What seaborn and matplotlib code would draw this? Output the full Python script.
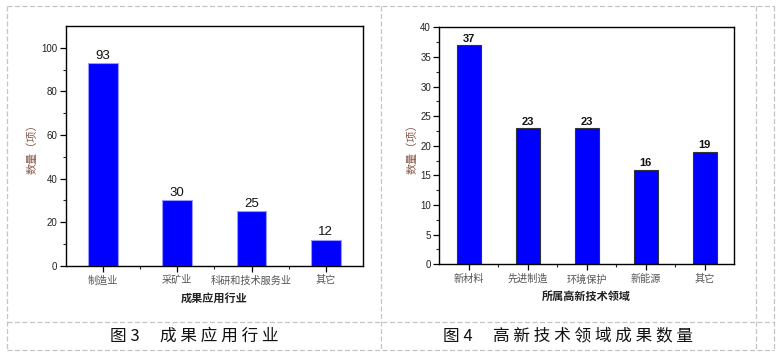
import numpy as np
import pandas as pd
import matplotlib
matplotlib.use("Agg")
import matplotlib.pyplot as plt
from matplotlib.lines import Line2D
import seaborn as sns

# 图3 数据
industry = ["制造业", "采矿业", "科研和技术服务业", "其它"]
industry_counts = [93, 30, 25, 12]

# 图4 数据
fields = ["新材料", "先进制造", "环境保护", "新能源", "其它"]
field_counts = [37, 23, 23, 16, 19]

sns.set_style("ticks")
plt.rcParams['font.family'] = ['Liberation Sans', 'Noto Sans CJK SC', 'DejaVu Sans']
plt.rcParams['axes.linewidth'] = 1.0

fig = plt.figure(figsize=(7.81, 3.57), dpi=100)
W, H = 781, 357


def px_axes(x0, y0, x1, y1):
    return fig.add_axes([x0 / W, 1 - y1 / H, (x1 - x0) / W, (y1 - y0) / H])


def style_axes(ax, cats, ylim, major, minor, xlabel, labelpad_y):
    ax.set_ylim(*ylim)
    ax.set_yticks(np.arange(0, ylim[1] + 0.01, major))
    ax.set_yticks(np.arange(minor, ylim[1], major), minor=True)
    ax.set_xticks(np.arange(0.5, len(cats) - 1, 1), minor=True)
    ax.set_xlim(-0.5, len(cats) - 0.5)
    for s in ax.spines.values():
        s.set_visible(True)
        s.set_color("black")
        s.set_linewidth(1.0)
    ax.tick_params(axis="both", which="major", direction="out", length=4, width=0.9,
                   colors="black", labelcolor="#222222", labelsize=7, pad=2)
    ax.tick_params(axis="both", which="minor", direction="out", length=2.5, width=0.8)
    ax.tick_params(axis="x", which="major", pad=3)
    for lab in ax.get_xticklabels():
        lab.set_color("#555555")
        lab.set_fontsize(7.3)
    ax.set_xlabel(xlabel, fontsize=8, fontweight="bold", color="#222222", labelpad=5)
    ax.set_ylabel("数量（项）", fontsize=8, color="#8a5a4a", labelpad=labelpad_y)


# 左图
ax1 = px_axes(65.7, 26, 363, 265.7)
df1 = pd.DataFrame({"cat": industry, "val": industry_counts})
sns.barplot(data=df1, x="cat", y="val", color="#0000ff", saturation=1, width=0.4,
            edgecolor="#9a9aff", linewidth=0.8, ax=ax1)
style_axes(ax1, industry, (0, 110), 20, 10, "成果应用行业", 3)
ax1.bar_label(ax1.containers[0], fontsize=9.5, color="#111111", padding=1)

# 右图
ax2 = px_axes(439.3, 27.3, 734.3, 264.3)
df2 = pd.DataFrame({"cat": fields, "val": field_counts})
sns.barplot(data=df2, x="cat", y="val", color="#0000ff", saturation=1, width=0.41,
            edgecolor="#333333", linewidth=0.8, ax=ax2)
style_axes(ax2, fields, (0, 40), 5, 2.5, "所属高新技术领域", 2)
ax2.bar_label(ax2.containers[0], fontsize=8, fontweight="bold", color="#111111", padding=1)

# 表格虚线框
dash = dict(color="#c4c4c4", linewidth=0.9, linestyle=(0, (4, 2)))
for (xa, ya, xb, yb) in [(7, 6, 774, 6), (7, 322.3, 774, 322.3), (7, 350.3, 774, 350.3),
                         (7, 6, 7, 350.3), (380.7, 6, 380.7, 350.3),
                         (755.7, 6, 755.7, 350.3), (774, 6, 774, 350.3)]:
    fig.add_artist(Line2D([xa / W, xb / W], [1 - ya / H, 1 - yb / H],
                          transform=fig.transFigure, **dash))

# 图题
cap = dict(fontsize=12, color="#111111", ha="center", va="center",
           family=['Noto Sans CJK SC', 'DejaVu Sans'])
fig.text(193.8 / W, 1 - 336 / H, "图 3　 成 果 应 用 行 业", **cap)
fig.text(568 / W, 1 - 336 / H, "图 4　 高 新 技 术 领 域 成 果 数 量", **cap)

fig.savefig("out.png", dpi=100)
